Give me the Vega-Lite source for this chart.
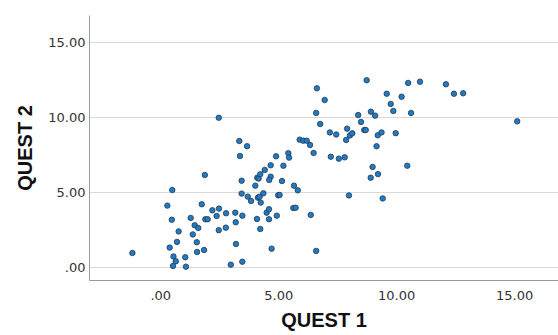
{
  "$schema": "https://vega.github.io/schema/vega-lite/v6.json",
  "width": 469,
  "height": 265,
  "autosize": {"type": "none"},
  "padding": {"left": 89, "top": 15, "right": 0, "bottom": 55},
  "background": "white",
  "config": {"view": {"stroke": null}},
  "data": {"values": [
    {"q1": -1.18, "q2": 0.95}, {"q1": 0.30, "q2": 4.11}, {"q1": 0.51, "q2": 5.15}, {"q1": 0.49, "q2": 3.17},
    {"q1": 0.78, "q2": 2.39}, {"q1": 0.71, "q2": 1.69}, {"q1": 0.40, "q2": 1.31}, {"q1": 0.56, "q2": 0.72},
    {"q1": 0.66, "q2": 0.40}, {"q1": 0.54, "q2": 0.09}, {"q1": 1.06, "q2": 0.67}, {"q1": 1.09, "q2": 0.04},
    {"q1": 1.29, "q2": 3.29}, {"q1": 1.46, "q2": 2.80}, {"q1": 1.61, "q2": 2.62}, {"q1": 1.38, "q2": 2.19},
    {"q1": 1.55, "q2": 1.67}, {"q1": 1.56, "q2": 1.02}, {"q1": 1.86, "q2": 1.15}, {"q1": 1.76, "q2": 4.20},
    {"q1": 1.91, "q2": 3.20}, {"q1": 2.01, "q2": 3.20}, {"q1": 2.21, "q2": 3.80}, {"q1": 2.49, "q2": 3.91},
    {"q1": 2.39, "q2": 3.42}, {"q1": 2.79, "q2": 3.60}, {"q1": 2.78, "q2": 2.64}, {"q1": 2.48, "q2": 2.47},
    {"q1": 1.89, "q2": 6.15}, {"q1": 2.48, "q2": 9.97}, {"q1": 2.99, "q2": 0.17}, {"q1": 3.18, "q2": 3.64},
    {"q1": 3.48, "q2": 3.44}, {"q1": 3.20, "q2": 3.00}, {"q1": 3.21, "q2": 1.55}, {"q1": 3.48, "q2": 0.37},
    {"q1": 3.45, "q2": 4.91}, {"q1": 3.71, "q2": 4.71}, {"q1": 3.85, "q2": 4.42}, {"q1": 4.14, "q2": 4.64},
    {"q1": 4.21, "q2": 4.70}, {"q1": 4.37, "q2": 4.93}, {"q1": 4.26, "q2": 4.31}, {"q1": 4.10, "q2": 3.22},
    {"q1": 4.24, "q2": 2.55}, {"q1": 4.51, "q2": 3.64}, {"q1": 4.61, "q2": 3.87}, {"q1": 4.94, "q2": 3.44},
    {"q1": 4.61, "q2": 3.20}, {"q1": 4.72, "q2": 1.24}, {"q1": 5.00, "q2": 4.80}, {"q1": 5.06, "q2": 4.82},
    {"q1": 5.64, "q2": 3.95}, {"q1": 5.74, "q2": 3.97}, {"q1": 6.38, "q2": 3.49}, {"q1": 6.61, "q2": 1.09},
    {"q1": 4.03, "q2": 5.44}, {"q1": 5.67, "q2": 5.44}, {"q1": 5.83, "q2": 5.13}, {"q1": 5.16, "q2": 5.75},
    {"q1": 3.45, "q2": 5.77}, {"q1": 4.11, "q2": 5.97}, {"q1": 4.17, "q2": 5.91}, {"q1": 4.24, "q2": 6.20},
    {"q1": 4.43, "q2": 6.49}, {"q1": 4.68, "q2": 6.80}, {"q1": 5.22, "q2": 6.77}, {"q1": 4.68, "q2": 6.04},
    {"q1": 4.62, "q2": 5.82}, {"q1": 4.91, "q2": 7.40}, {"q1": 5.43, "q2": 7.61}, {"q1": 5.46, "q2": 7.31},
    {"q1": 3.38, "q2": 7.42}, {"q1": 3.35, "q2": 8.42}, {"q1": 3.68, "q2": 8.07}, {"q1": 5.91, "q2": 8.51},
    {"q1": 6.06, "q2": 8.44}, {"q1": 6.21, "q2": 8.44}, {"q1": 6.35, "q2": 8.15}, {"q1": 6.50, "q2": 7.62},
    {"q1": 6.64, "q2": 11.93}, {"q1": 6.61, "q2": 10.29}, {"q1": 6.78, "q2": 9.55}, {"q1": 6.97, "q2": 11.15},
    {"q1": 7.19, "q2": 8.99}, {"q1": 7.46, "q2": 8.85}, {"q1": 7.23, "q2": 7.37}, {"q1": 7.57, "q2": 7.24},
    {"q1": 7.82, "q2": 7.33}, {"q1": 7.92, "q2": 9.24}, {"q1": 7.88, "q2": 8.49}, {"q1": 8.04, "q2": 8.79},
    {"q1": 8.14, "q2": 8.93}, {"q1": 8.39, "q2": 10.15}, {"q1": 8.51, "q2": 9.69}, {"q1": 8.65, "q2": 9.15},
    {"q1": 8.71, "q2": 9.15}, {"q1": 8.75, "q2": 12.47}, {"q1": 8.93, "q2": 10.37}, {"q1": 9.11, "q2": 10.11},
    {"q1": 9.22, "q2": 8.80}, {"q1": 9.38, "q2": 8.99}, {"q1": 9.17, "q2": 8.07}, {"q1": 9.00, "q2": 6.69},
    {"q1": 8.92, "q2": 5.97}, {"q1": 9.23, "q2": 6.21}, {"q1": 9.60, "q2": 11.57}, {"q1": 9.77, "q2": 10.89},
    {"q1": 9.88, "q2": 10.42}, {"q1": 9.98, "q2": 8.94}, {"q1": 10.23, "q2": 11.37}, {"q1": 10.51, "q2": 12.29},
    {"q1": 11.01, "q2": 12.37}, {"q1": 10.63, "q2": 10.29}, {"q1": 10.47, "q2": 6.77}, {"q1": 8.00, "q2": 4.79},
    {"q1": 9.43, "q2": 4.59}, {"q1": 12.11, "q2": 12.20}, {"q1": 12.45, "q2": 11.57}, {"q1": 12.84, "q2": 11.60},
    {"q1": 15.13, "q2": 9.73}
  ]},
  "mark": {"type": "point", "shape": "circle", "filled": true, "size": 30, "fill": "#1f7bc6", "stroke": "#27384a", "strokeWidth": 0.8, "opacity": 1},
  "encoding": {
    "x": {
      "field": "q1", "type": "quantitative", "title": "QUEST 1",
      "scale": {"domain": [-3.02, 16.86], "nice": false, "zero": false},
      "axis": {
        "values": [0, 5, 10, 15],
        "labelExpr": "datum.value == 0 ? '.00' : format(datum.value, '.2f')",
        "grid": false, "ticks": false,
        "domainColor": "#9a9a9a", "domainWidth": 1,
        "labelFont": "DejaVu Sans", "labelFontSize": 13, "labelColor": "#333333", "labelPadding": 9,
        "titleFont": "Liberation Sans", "titleFontSize": 20, "titleFontWeight": "bold", "titleColor": "#111111", "titlePadding": 8
      }
    },
    "y": {
      "field": "q2", "type": "quantitative", "title": "QUEST 2",
      "scale": {"domain": [-0.85, 16.82], "nice": false, "zero": false},
      "axis": {
        "values": [0, 5, 10, 15],
        "labelExpr": "datum.value == 0 ? '.00' : format(datum.value, '.2f')",
        "grid": true, "gridColor": "#d9d9d9", "gridWidth": 1,
        "ticks": false,
        "domainColor": "#9a9a9a", "domainWidth": 1,
        "labelFont": "DejaVu Sans", "labelFontSize": 13, "labelColor": "#333333", "labelPadding": 4,
        "titleFont": "Liberation Sans", "titleFontSize": 20, "titleFontWeight": "bold", "titleColor": "#111111", "titlePadding": 12
      }
    }
  }
}
